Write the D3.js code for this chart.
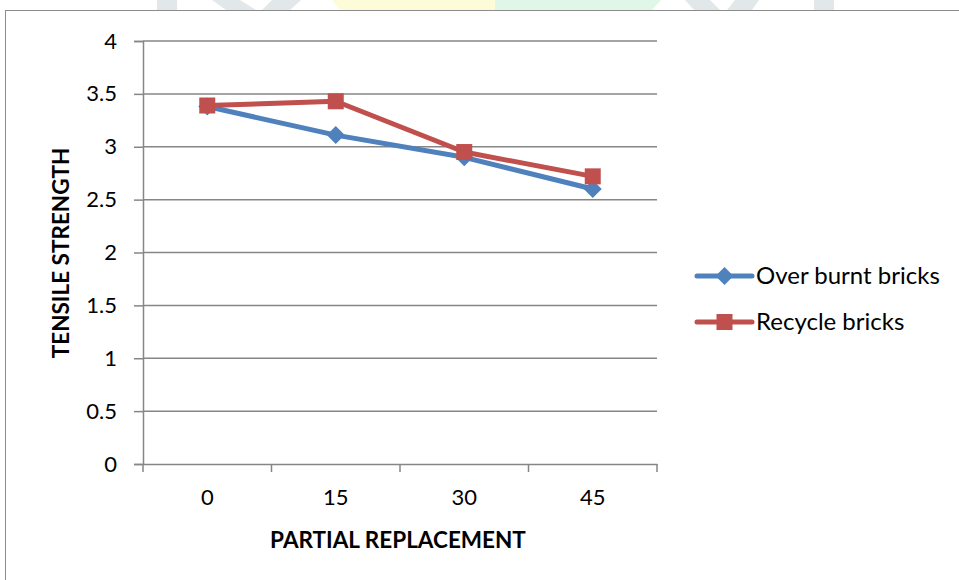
<!DOCTYPE html>
<html>
<head>
<meta charset="utf-8">
<script src="https://cdn.jsdelivr.net/npm/d3@7"></script>
<style>
  html, body { margin: 0; padding: 0; background: #fff; }
  svg { display: block; font-family: Lato, "Open Sans", sans-serif; }
</style>
</head>
<body>
<svg id="chart" width="959" height="580"></svg>
<script>
// Partial replacement levels (%) on the x axis
const categories = ["0", "15", "30", "45"];
// Tensile strength for each replacement level
const overBurnt = [3.38, 3.11, 2.90, 2.60];
const recycle = [3.39, 3.43, 2.95, 2.72];
const yTicks = [0, 0.5, 1, 1.5, 2, 2.5, 3, 3.5, 4];
const seriesNames = ["Over burnt bricks", "Recycle bricks"];

const svg = d3.select("#chart");
const W = 959, H = 580;
const plot = { left: 143, right: 657, top: 41, bottom: 464 };

// faint decorative shapes along the top edge
const deco = svg.append("g");
deco.append("rect").attr("x", 157).attr("y", 0).attr("width", 20).attr("height", 10).attr("fill", "#e2e8ea");
deco.append("polygon").attr("points", "212,0 240,0 256,10 226,10").attr("fill", "#e2e8ea");
deco.append("polygon").attr("points", "272,0 301,0 290,10 262,10").attr("fill", "#e2e8ea");
deco.append("polygon").attr("points", "332,0 495,0 495,10 340,10").attr("fill", "#fdfbd8");
deco.append("polygon").attr("points", "495,0 661,0 652,10 495,10").attr("fill", "#e0f7e8");
deco.append("polygon").attr("points", "685,0 710,0 720,10 694,10").attr("fill", "#e2e8ea");
deco.append("polygon").attr("points", "735,0 759,0 752,10 727,10").attr("fill", "#e2e8ea");
deco.append("rect").attr("x", 814).attr("y", 0).attr("width", 20).attr("height", 10).attr("fill", "#e2e8ea");

// chart frame
svg.append("rect")
  .attr("x", 5.5).attr("y", 10.5).attr("width", W + 10).attr("height", H + 10)
  .attr("fill", "none").attr("stroke", "#8c8c8c").attr("stroke-width", 1);

const x = d3.scaleBand().domain(categories).range([plot.left, plot.right]);
const y = d3.scaleLinear().domain([0, 4]).range([plot.bottom, plot.top]);

// horizontal gridlines
svg.append("g")
  .selectAll("line")
  .data(yTicks.filter(d => d > 0))
  .join("line")
  .attr("x1", plot.left).attr("x2", plot.right)
  .attr("y1", d => y(d)).attr("y2", d => y(d))
  .attr("stroke", "#868686").attr("stroke-width", 1.5);

// y axis
const yAxis = svg.append("g")
  .attr("transform", `translate(${plot.left},0)`)
  .call(d3.axisLeft(y).tickValues(yTicks).tickSize(9).tickPadding(17).tickFormat(d3.format("")));
yAxis.select(".domain").attr("stroke", "#868686").attr("stroke-width", 1.5);
yAxis.selectAll(".tick line").attr("stroke", "#868686").attr("stroke-width", 1.5);
yAxis.selectAll(".tick text").attr("font-size", 22).attr("fill", "#000").attr("font-family", "Lato, sans-serif");

// x axis with ticks between categories
const xAxis = svg.append("g")
  .attr("transform", `translate(0,${plot.bottom})`)
  .call(d3.axisBottom(x).tickSize(0).tickPadding(25));
xAxis.select(".domain").attr("stroke", "#868686").attr("stroke-width", 1.5);
xAxis.selectAll(".tick text").attr("font-size", 22).attr("fill", "#000").attr("font-family", "Lato, sans-serif");
const boundaries = categories.map(c => x(c)).concat([x(categories[categories.length - 1]) + x.bandwidth()]);
xAxis.selectAll(".bound")
  .data(boundaries)
  .join("line")
  .attr("class", "bound")
  .attr("x1", d => d).attr("x2", d => d)
  .attr("y1", 0).attr("y2", 8)
  .attr("stroke", "#868686").attr("stroke-width", 1.5);

// axis titles
svg.append("text")
  .attr("x", 398).attr("y", 548)
  .attr("text-anchor", "middle")
  .attr("font-size", 22.5).attr("font-weight", "bold")
  .text("PARTIAL REPLACEMENT");
svg.append("text")
  .attr("transform", "translate(69,253) rotate(-90)")
  .attr("text-anchor", "middle")
  .attr("font-size", 22.5).attr("font-weight", "bold")
  .text("TENSILE STRENGTH");

const cx = d => x(d) + x.bandwidth() / 2;
const line = d3.line().x(d => cx(d.c)).y(d => y(d.v));

const series = [
  { name: seriesNames[0], values: overBurnt, color: "#4F81BD", marker: "diamond" },
  { name: seriesNames[1], values: recycle, color: "#C0504D", marker: "square" }
];

function drawMarker(g, type, color) {
  if (type === "diamond") {
    g.append("path").attr("d", "M0,-9L9,0L0,9L-9,0Z").attr("fill", color);
  } else {
    g.append("rect").attr("x", -8).attr("y", -8).attr("width", 16).attr("height", 16).attr("fill", color);
  }
}

series.forEach(s => {
  const pts = categories.map((c, i) => ({ c, v: s.values[i] }));
  svg.append("path")
    .datum(pts)
    .attr("d", line)
    .attr("fill", "none")
    .attr("stroke", s.color)
    .attr("stroke-width", 5)
    .attr("stroke-linejoin", "round");
  pts.forEach(p => {
    const g = svg.append("g").attr("transform", `translate(${cx(p.c)},${y(p.v)})`);
    drawMarker(g, s.marker, s.color);
  });
});

// legend
const legend = svg.append("g");
series.forEach((s, i) => {
  const ly = 276 + i * 46;
  legend.append("line")
    .attr("x1", 697).attr("x2", 752).attr("y1", ly).attr("y2", ly)
    .attr("stroke", s.color).attr("stroke-width", 5).attr("stroke-linecap", "round");
  const g = legend.append("g").attr("transform", `translate(724.5,${ly})`);
  drawMarker(g, s.marker, s.color);
  legend.append("text")
    .attr("x", 756).attr("y", ly + 8)
    .attr("font-size", 24)
    .attr("fill", "#000")
    .text(s.name);
});
</script>
</body>
</html>
